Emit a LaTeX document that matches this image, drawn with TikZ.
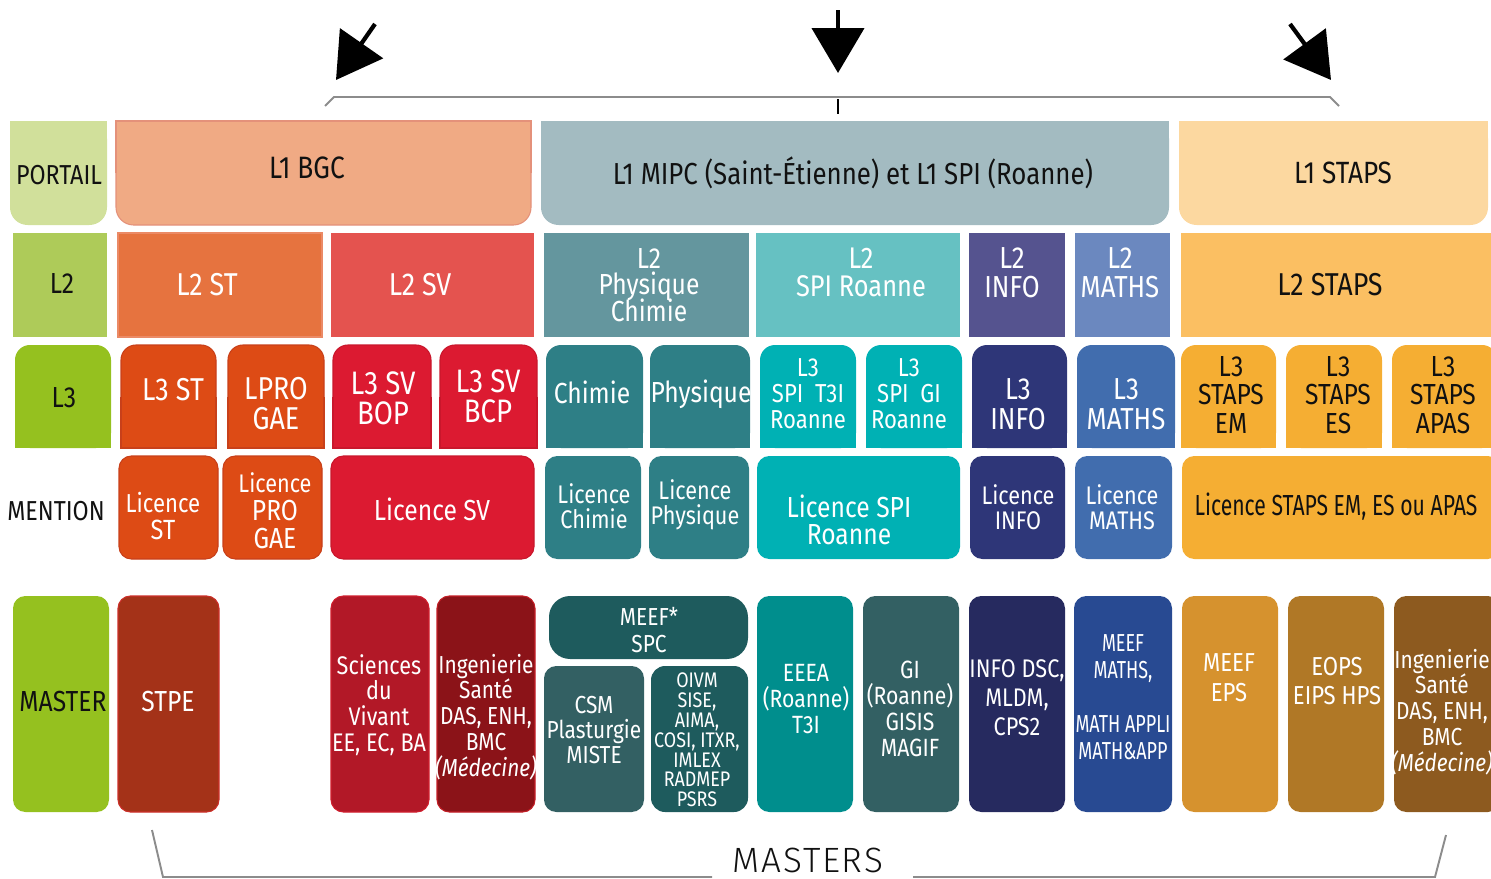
\documentclass[tikz,border=0pt]{standalone}
\usepackage{fontspec}
\setmainfont{Fira Sans}[FakeStretch=0.85]
\newfontfamily\narrowfont{Fira Sans}[FakeStretch=0.73]
\newfontfamily\lightfont{Fira Sans Light}[LetterSpace=5]
\usetikzlibrary{arrows.meta}
% colours
\definecolor{cPort}{HTML}{D1E09B}
\definecolor{cBGC}{HTML}{F0AA84}
\definecolor{bBGC}{HTML}{E4917A}
\definecolor{cMIPC}{HTML}{A3BBC1}
\definecolor{cL1ST}{HTML}{FCD8A0}
\definecolor{cL2lab}{HTML}{AECB59}
\definecolor{cL2ST}{HTML}{E6733F}
\definecolor{bL2ST}{HTML}{EB8A66}
\definecolor{cL2SV}{HTML}{E4534F}
\definecolor{cL2PC}{HTML}{64969E}
\definecolor{cL2SPI}{HTML}{66C1C2}
\definecolor{cL2INFO}{HTML}{55538F}
\definecolor{cL2MATH}{HTML}{6B88BF}
\definecolor{cL2STAPS}{HTML}{FBBF62}
\definecolor{cGreen}{HTML}{95C11F}
\definecolor{cST}{HTML}{DD4B15}
\definecolor{bST}{HTML}{C8401A}
\definecolor{cSV}{HTML}{DC1A31}
\definecolor{bSV}{HTML}{C9172C}
\definecolor{cChim}{HTML}{2E7F86}
\definecolor{cSPI}{HTML}{00B1B4}
\definecolor{cINFO}{HTML}{2E3678}
\definecolor{cMATH}{HTML}{416DAE}
\definecolor{cSTAPS}{HTML}{F5AE33}
\definecolor{cSTPE}{HTML}{A43218}
\definecolor{bSTPE}{HTML}{CC2F2A}
\definecolor{cSdV}{HTML}{B21827}
\definecolor{bSdV}{HTML}{D01F2E}
\definecolor{cIS}{HTML}{8B1318}
\definecolor{bIS}{HTML}{C41E26}
\definecolor{cMEEF}{HTML}{1E5B5D}
\definecolor{cCSM}{HTML}{336063}
\definecolor{cEEEA}{HTML}{008E8D}
\definecolor{cDSC}{HTML}{262A5F}
\definecolor{cMM}{HTML}{284A92}
\definecolor{cEPS}{HTML}{D6922E}
\definecolor{cEOPS}{HTML}{B07826}
\definecolor{cIS2}{HTML}{8D5A1F}
\definecolor{txtk}{HTML}{111111}
\definecolor{brk}{HTML}{8C8C8C}

\newcommand\fs[2]{\fontsize{#1}{#2}\selectfont\lineskiplimit=-100pt\relax}
\newcommand\boxN[5]{\path[#1] (#2,#3) rectangle (#4,#5);}
\newcommand\boxA[6]{\path[#1,rounded corners=#2] (#3,#4) rectangle (#5,#6);}
\newcommand\boxT[6]{%
  \pgfmathsetmacro\ym{(#4+#6)/2}%
  \path[#1,rounded corners=#2] (#3,#4) rectangle (#5,#6);
  \path[#1,draw=none] (#3,\ym) rectangle (#5,#6);
  \path[#1,fill=none] (#3,\ym) -- (#3,#6) -- (#5,#6) -- (#5,\ym);}
\newcommand\boxB[6]{%
  \pgfmathsetmacro\ym{(#4+#6)/2}%
  \path[#1,rounded corners=#2] (#3,#4) rectangle (#5,#6);
  \path[#1,draw=none] (#3,#4) rectangle (#5,\ym);
  \path[#1,fill=none] (#3,\ym) -- (#3,#4) -- (#5,#4) -- (#5,\ym);}

\begin{document}
\begin{tikzpicture}[x=0.02cm,y=-0.02cm,
  T/.style={align=center,inner sep=0pt,text=white},
  K/.style={T,text=txtk},
  sPort/.style={fill=cPort},
  sBGC/.style={fill=cBGC,draw=bBGC,line width=0.6pt},
  sMIPC/.style={fill=cMIPC},
  sL1ST/.style={fill=cL1ST},
  sL2lab/.style={fill=cL2lab},
  sL2ST/.style={fill=cL2ST,draw=bL2ST,line width=0.6pt},
  sL2SV/.style={fill=cL2SV},
  sL2PC/.style={fill=cL2PC},
  sL2SPI/.style={fill=cL2SPI},
  sL2INFO/.style={fill=cL2INFO},
  sL2MATH/.style={fill=cL2MATH},
  sL2STAPS/.style={fill=cL2STAPS},
  sGreen/.style={fill=cGreen},
  sST/.style={fill=cST,draw=bST,line width=0.6pt},
  sSV/.style={fill=cSV,draw=bSV,line width=0.6pt},
  sChim/.style={fill=cChim},
  sSPI/.style={fill=cSPI},
  sINFO/.style={fill=cINFO},
  sMATH/.style={fill=cMATH},
  sSTAPS/.style={fill=cSTAPS},
  sSTPE/.style={fill=cSTPE,draw=bSTPE,line width=0.6pt},
  sSdV/.style={fill=cSdV,draw=bSdV,line width=0.6pt},
  sIS/.style={fill=cIS,draw=bIS,line width=0.6pt},
  sMEEF/.style={fill=cMEEF},
  sCSM/.style={fill=cCSM},
  sEEEA/.style={fill=cEEEA},
  sDSC/.style={fill=cDSC},
  sMM/.style={fill=cMM},
  sEPS/.style={fill=cEPS},
  sEOPS/.style={fill=cEOPS},
  sIS2/.style={fill=cIS2},
  brack/.style={draw=brk,line width=1.1pt},
  bigarrow/.style={line width=2.4pt,-{Triangle[width=29.5pt,length=25.5pt]}}
]
\useasboundingbox (0,0) rectangle (1491,879);

% ---------- top arrows and bracket ----------
\coordinate (aLs) at (375,24);  \coordinate (aLe) at (336,80);
\coordinate (aMs) at (838,10);  \coordinate (aMe) at (838,73);
\coordinate (aRs) at (1290,24); \coordinate (aRe) at (1331,80);
\draw[bigarrow] (aLs) -- (aLe);
\draw[bigarrow] (aMs) -- (aMe);
\draw[bigarrow] (aRs) -- (aRe);
\coordinate (bt1) at (325,106); \coordinate (bt2) at (334,97);
\coordinate (bt3) at (1330,97); \coordinate (bt4) at (1339,106);
\draw[brack,line join=round] (bt1) -- (bt2) -- (bt3) -- (bt4);
\coordinate (tk1) at (838,99); \coordinate (tk2) at (838,114);
\draw[line width=1pt,black] (tk1) -- (tk2);

% ---------- row 1 : PORTAIL ----------
\boxB{sPort}{10pt}{10}{121}{107}{225}
\boxB{sBGC}{10pt}{116}{121}{531}{225}
\boxB{sMIPC}{10pt}{541}{121}{1169}{225}
\boxB{sL1ST}{10pt}{1179}{121}{1488}{225}
\node[K,font=\fs{15.6}{16}] (tPortail) at (59,175) {PORTAIL};
\node[K,font=\fs{17.6}{17}] (tBGC) at (307,168) {L1 BGC};
\node[K,font=\fs{17.3}{17}] (tMIPC) at (853,173) {L1 MIPC (Saint-Étienne) et L1 SPI (Roanne)};
\node[K,font=\fs{17.5}{17}] (tL1STAPS) at (1343,173) {L1 STAPS};

% ---------- row 2 : L2 ----------
\boxN{sL2lab}{13}{233}{107}{337}
\boxN{sL2ST}{118}{233}{322}{337}
\boxN{sL2SV}{331}{233}{534}{337}
\boxN{sL2PC}{544}{233}{749}{337}
\boxN{sL2SPI}{756}{233}{960}{337}
\boxN{sL2INFO}{969}{233}{1065}{337}
\boxN{sL2MATH}{1075}{233}{1170}{337}
\boxN{sL2STAPS}{1181}{233}{1497}{337}
\node[K,font=\fs{16.5}{16}] (tL2) at (62,284) {L2};
\node[T,font=\fs{18}{17}] (tL2ST) at (207,285) {L2 ST};
\node[T,font=\fs{18}{17}] (tL2SV) at (420,285) {L2 SV};
\node[T,font=\fs{16.5}{15}] (tL2PC) at (649,285) {L2\\Physique\\Chimie};
\node[T,font=\fs{17}{16}] (tL2SPI) at (861,272) {L2\\SPI Roanne};
\node[T,font=\fs{17.3}{16.4}] (tL2INFO) at (1012,273) {L2\\INFO};
\node[T,font=\fs{17.3}{16.4}] (tL2MATH) at (1120,273) {L2\\MATHS};
\node[K,font=\fs{18}{17}] (tL2STAPS) at (1330,285) {L2 STAPS};

% ---------- row 3 : L3 ----------
\boxT{sGreen}{8.5pt}{15}{345}{111}{448}
\boxT{sST}{8.5pt}{121}{345}{216}{448}
\boxT{sST}{8.5pt}{228}{345}{324}{448}
\boxT{sSV}{8.5pt}{333}{345}{431}{448}
\boxT{sSV}{8.5pt}{440}{345}{537}{448}
\boxT{sChim}{8.5pt}{546}{345}{643}{448}
\boxT{sChim}{8.5pt}{650}{345}{750}{448}
\boxT{sSPI}{8.5pt}{760}{345}{856}{448}
\boxT{sSPI}{8.5pt}{866}{345}{962}{448}
\boxT{sINFO}{8.5pt}{972}{345}{1067}{448}
\boxT{sMATH}{8.5pt}{1077}{345}{1175}{448}
\boxT{sSTAPS}{8.5pt}{1181}{345}{1276}{448}
\boxT{sSTAPS}{8.5pt}{1286}{345}{1382}{448}
\boxT{sSTAPS}{8.5pt}{1392}{345}{1497}{448}
\node[K,font=\fs{16.5}{16}] (tL3) at (64,398) {L3};
\node[T,font=\fs{18}{17}] (tL3ST) at (173,390) {L3 ST};
\node[T,font=\fs{18}{17}] (tLPRO) at (276,404) {LPRO\\GAE};
\node[T,font=\fs{18.5}{17}] (tBOP) at (383,398) {L3 SV\\BOP};
\node[T,font=\fs{18.5}{17}] (tBCP) at (488,396) {L3 SV\\BCP};
\node[T,font=\fs{16.5}{16}] (tChim) at (592,392) {Chimie};
\node[T,font=\fs{16.5}{16}] (tPhys) at (701,394) {Physique};
\node[T,font=\fs{14.8}{14.7}] (tT3I) at (808,394) {L3\\SPI\ \ T3I\\Roanne};
\node[T,font=\fs{14.8}{14.7}] (tGI) at (909,394) {L3\\SPI\ \ GI\\Roanne};
\node[T,font=\fs{17.3}{17}] (tL3INFO) at (1018,404) {L3\\INFO};
\node[T,font=\fs{17.3}{17}] (tL3MATH) at (1126,404) {L3\\MATHS};
\node[K,font=\fs{16.5}{16.4}] (tEM) at (1231,395) {L3\\STAPS\\EM};
\node[K,font=\fs{16.5}{16.4}] (tES) at (1338,395) {L3\\STAPS\\ES};
\node[K,font=\fs{16.5}{16.4}] (tAPAS) at (1443,395) {L3\\STAPS\\APAS};

% ---------- row 4 : MENTION ----------
\boxA{sST}{7pt}{119}{456}{218}{559}
\boxA{sST}{7pt}{223}{456}{322}{559}
\boxA{sSV}{7pt}{331}{456}{534}{559}
\boxA{sChim}{7pt}{545}{456}{641}{559}
\boxA{sChim}{7pt}{649}{456}{749}{559}
\boxA{sSPI}{7pt}{757}{456}{960}{559}
\boxA{sINFO}{7pt}{970}{456}{1065}{559}
\boxA{sMATH}{7pt}{1075}{456}{1172}{559}
\boxA{sSTAPS}{7pt}{1182}{456}{1500}{559}
\node[K,font=\fs{15.6}{16}] (tMention) at (56,511) {MENTION};
\node[T,font=\fs{14.8}{15.3}] (tLicST) at (163,516) {Licence\\{\fs{15.8}{15.3}ST}};
\node[T,font=\fs{16.5}{15.9}] (tLicPRO) at (275,511) {{\fs{14.5}{15.9}Licence}\\PRO\\GAE};
\node[T,font=\fs{16.5}{16}] (tLicSV) at (432,509) {Licence SV};
\node[T,font=\fs{14.5}{14.2}] (tLicChim) at (594,506) {Licence\\Chimie};
\node[T,font=\fs{14.5}{14.2}] (tLicPhys) at (695,505) {Licence\\Physique};
\node[T,font=\fs{16.5}{15.2}] (tLicSPI) at (849,520) {Licence SPI\\Roanne};
\node[T,font=\fs{14.5}{14.2}] (tLicINFO) at (1018,507) {Licence\\INFO};
\node[T,font=\fs{14.5}{14.2}] (tLicMATH) at (1122,507) {Licence\\MATHS};
\node[K,font={\narrowfont\fs{16.5}{16}}] (tLicSTAPS) at (1336,507) {Licence STAPS EM, ES ou APAS};

% ---------- row 5 : MASTER ----------
\boxA{sGreen}{7pt}{13}{596}{109}{812}
\boxA{sSTPE}{7pt}{118}{596}{219}{812}
\boxA{sSdV}{7pt}{331}{596}{429}{812}
\boxA{sIS}{7pt}{437}{596}{535}{812}
\boxA{sMEEF}{12pt}{549}{596}{748}{659}
\boxA{sCSM}{7pt}{544}{666}{644}{812}
\boxA{sMEEF}{8pt}{651}{666}{748}{812}
\boxA{sEEEA}{7pt}{757}{596}{853}{812}
\boxA{sCSM}{7pt}{863}{596}{959}{812}
\boxA{sDSC}{7pt}{969}{596}{1065}{812}
\boxA{sMM}{7pt}{1074}{596}{1172}{812}
\boxA{sEPS}{7pt}{1182}{596}{1278}{812}
\boxA{sEOPS}{7pt}{1288}{596}{1384}{812}
\boxA{sIS2}{7pt}{1394}{596}{1500}{812}
\node[K,font=\fs{16.5}{16}] (tMaster) at (63,702) {MASTER};
\node[T,font=\fs{16.5}{16}] (tSTPE) at (168,702) {STPE};
\node[T,font=\fs{14.5}{14.7}] (tSdV) at (379,705) {Sciences\\du\\Vivant\\EE, EC, BA};
\node[T,font=\fs{14}{14.7}] (tIS) at (486,717) {Ingenierie\\Santé\\DAS, ENH,\\BMC\\\textit{(Médecine)}};
\node[T,font=\fs{14}{15.3}] (tMEEF) at (649,630) {MEEF*\\SPC};
\node[T,font=\fs{14}{14.5}] (tCSM) at (594,730) {CSM\\Plasturgie\\MISTE};
\node[T,font=\fs{12}{11.3}] (tOIVM) at (697,740) {OIVM\\SISE,\\AIMA,\\COSI, ITXR,\\IMLEX\\RADMEP\\PSRS};
\node[T,font=\fs{14.2}{14.7}] (tEEEA) at (806,699) {EEEA\\(Roanne)\\T3I};
\node[T,font=\fs{14.2}{14.7}] (tGIm) at (910,709) {GI\\(Roanne)\\GISIS\\MAGIF};
\node[T,font=\fs{14.5}{16.4}] (tDSC) at (1017,698) {INFO DSC,\\MLDM,\\CPS2};
\node[T,font={\narrowfont\fs{14}{15.3}}] (tMM) at (1123,697) {MEEF\\MATHS,\\[15.3pt]MATH APPLI\\MATH\&APP};
\node[T,font=\fs{14.8}{17}] (tEPS) at (1229,678) {MEEF\\EPS};
\node[T,font=\fs{14.8}{17}] (tEOPS) at (1337,681) {EOPS\\EIPS HPS};
\node[T,font=\fs{14}{14.7}] (tIS2) at (1442,712) {Ingenierie\\Santé\\DAS, ENH,\\BMC\\\textit{(Médecine)}};

% ---------- bottom bracket ----------
\node[K,font={\lightfont\fontsize{20}{20}\selectfont},anchor=base] (tMasters) at (808,872) {MASTERS};
\coordinate (bb1) at (152,830); \coordinate (bb2) at (163,877);
\coordinate (bb3) at (712,877); \coordinate (bb4) at (913,877);
\coordinate (bb5) at (1435,877); \coordinate (bb6) at (1446,835);
\draw[brack] (bb1) -- (bb2) -- (bb3);
\draw[brack] (bb4) -- (bb5) -- (bb6);
\end{tikzpicture}
\end{document}
